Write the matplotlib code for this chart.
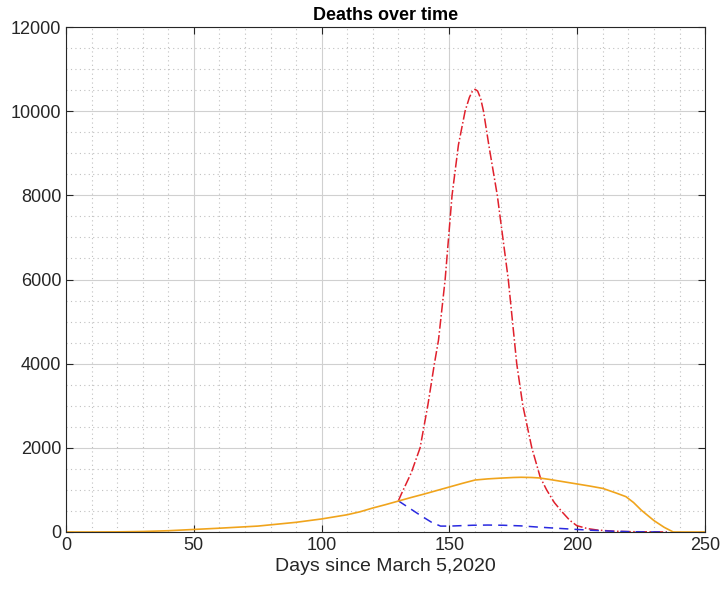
import matplotlib
matplotlib.use("Agg")
import matplotlib.pyplot as plt
from matplotlib.ticker import MultipleLocator

# Baseline (solid orange)
base_days = [0, 10, 20, 30, 40, 50, 60, 75, 90, 100, 110, 115, 120, 125, 130,
             135, 140, 145, 150, 155, 160, 165, 170, 175, 178, 182, 185, 189,
             193, 200, 205, 210, 215, 219, 222, 225, 230, 234, 237.5, 250]
base_deaths = [0, 0, 3, 12, 30, 60, 90, 140, 230, 310, 410, 480, 570, 650, 735,
               820, 900, 985, 1070, 1155, 1235, 1262, 1280, 1295, 1300, 1295,
               1285, 1250, 1210, 1140, 1090, 1035, 930, 840, 700, 520, 270,
               110, 0, 0]

# Peak scenario (red dash-dot)
peak_days = [130, 131.3, 135, 138.5, 141.5, 144.1, 145.7, 148.3, 151, 153.5,
             156.1, 157.8, 159, 160, 161, 162.2, 163.3, 165.5, 168.7, 173,
             176.3, 178.7, 182.2, 185.5, 188, 191, 194, 197, 199.8, 204, 208,
             214, 220, 235]
peak_deaths = [740, 920, 1400, 2000, 3000, 4000, 4560, 6000, 8000, 9200,
               10000, 10330, 10480, 10520, 10480, 10300, 10000, 9150, 8000,
               6000, 4000, 3000, 2000, 1300, 1000, 700, 480, 280, 150, 80, 45,
               20, 8, 0]

# Lockdown scenario (blue dashed)
low_days = [130, 134, 138.5, 143, 146.5, 150, 159, 165, 171, 178, 185, 193,
            200, 206, 215, 225, 235]
low_deaths = [740, 580, 400, 230, 140, 140, 160, 165, 160, 145, 115, 85,
              60, 40, 15, 3, 0]

plt.rcParams['font.family'] = ['Liberation Sans', 'DejaVu Sans']

fig = plt.figure(figsize=(7.23, 5.94), dpi=100)
ax = fig.add_axes([0.0913, 0.1044, 0.884, 0.8501])

ax.plot(peak_days, peak_deaths, color='#e0202c', linestyle='-.', linewidth=1.1)
ax.plot(low_days, low_deaths, color='#2a2ae0', linestyle=(0, (6, 4)), linewidth=1.1)
ax.plot(base_days, base_deaths, color='#f0a41c', linewidth=1.2)

ax.set_xlim(0, 250)
ax.set_ylim(0, 12000)
ax.xaxis.set_major_locator(MultipleLocator(50))
ax.xaxis.set_minor_locator(MultipleLocator(10))
ax.yaxis.set_major_locator(MultipleLocator(2000))
ax.yaxis.set_minor_locator(MultipleLocator(500))

ax.grid(which='major', color='#d0d0d0', linewidth=0.8, linestyle='-')
ax.grid(which='minor', color='#c0c0c0', linewidth=0.8, linestyle=(0, (1, 3)))
ax.set_axisbelow(True)

ax.tick_params(which='both', direction='in', top=True, right=True,
               labelsize=13, colors='#262626')
ax.tick_params(which='major', length=5)
ax.tick_params(which='minor', length=0)
for s in ax.spines.values():
    s.set_color('#262626')
    s.set_linewidth(0.8)

ax.set_title('Deaths over time', fontsize=13, fontweight='bold', pad=5)
ax.set_xlabel('Days since March 5,2020', fontsize=14, color='#262626', labelpad=3)

fig.savefig('out.png', dpi=100)
